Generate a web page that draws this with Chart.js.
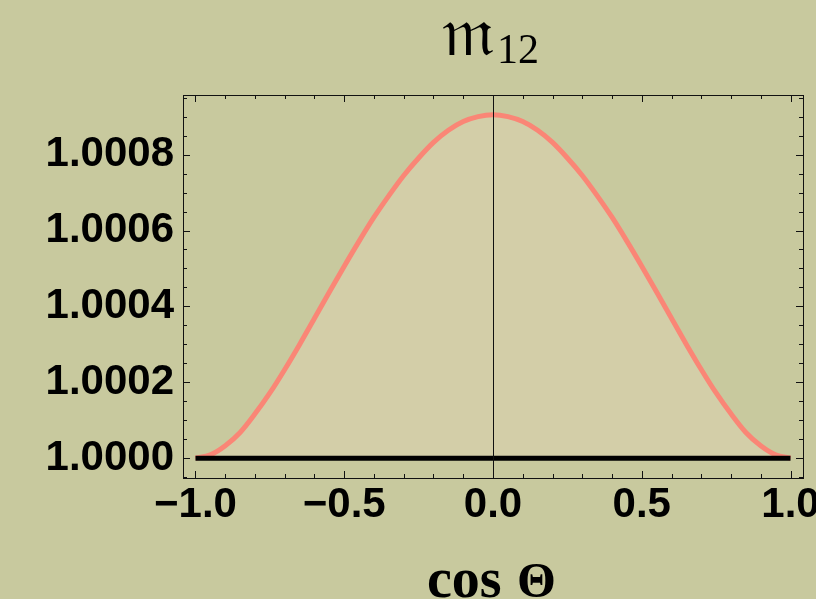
<!DOCTYPE html>
<html>
<head>
<meta charset="utf-8">
<script src="https://cdn.jsdelivr.net/npm/chart.js@4/dist/chart.umd.min.js"></script>
<style>
  html, body { margin: 0; padding: 0; overflow: hidden; background: #c8c99e; }
  #wrap { position: relative; width: 840px; height: 599px; }
</style>
</head>
<body>
<div id="wrap"><canvas id="myChart"></canvas></div>
<script>
'use strict'

// curve
const curveX = [-1, -0.95, -0.9, -0.85, -0.8, -0.75, -0.7, -0.65, -0.6, -0.55, -0.5,
    -0.45, -0.4, -0.35, -0.3, -0.25, -0.2, -0.15, -0.1, -0.05, 0,
    0.05, 0.1, 0.15, 0.2, 0.25, 0.3, 0.35, 0.4, 0.45, 0.5,
    0.55, 0.6, 0.65, 0.7, 0.75, 0.8, 0.85, 0.9, 0.95, 1]
const curveY = [1.0000000, 1.0000090, 1.0000330, 1.0000680, 1.0001170, 1.0001720, 1.0002340, 1.0003000, 1.0003690, 1.0004380, 1.0005060,
    1.0005720, 1.0006350, 1.0006920, 1.0007450, 1.0007910, 1.0008320, 1.0008640, 1.0008870, 1.0009000, 1.0009050,
    1.0009000, 1.0008870, 1.0008640, 1.0008320, 1.0007910, 1.0007450, 1.0006920, 1.0006350, 1.0005720, 1.0005060,
    1.0004380, 1.0003690, 1.0003000, 1.0002340, 1.0001720, 1.0001170, 1.0000680, 1.0000330, 1.0000090, 1.0000000]

// black reference line
const baseX = [-1, 1]
const baseY = [1, 1]

// axes
const xTicks = [-1, -0.5, 0, 0.5, 1]
const xTickLabels = ['\u22121.0', '\u22120.5', '0.0', '0.5', '1.0']
const xMinor = [-0.9, -0.8, -0.7, -0.6, -0.4, -0.3, -0.2, -0.1, 0.1, 0.2, 0.3, 0.4, 0.6, 0.7, 0.8, 0.9]
const yTicks = [1.0000, 1.0002, 1.0004, 1.0006, 1.0008]
const yTickLabels = ['1.0000', '1.0002', '1.0004', '1.0006', '1.0008']
const yMinor = [0.99995, 1.00005, 1.0001, 1.00015, 1.00025, 1.0003, 1.00035, 1.00045, 1.0005,
    1.00055, 1.00065, 1.0007, 1.00075, 1.00085, 1.0009, 1.00095]
const xRange = [-1.042, 1.042]
const yRange = [0.999948, 1.000957]

const titleMain = '\u{1D52A}'
const titleSub = '12'
const xTitleA = 'cos'
const xTitleB = '\u0398'

const framePlugin = {
    id: 'frame',
    afterDatasetsDraw(chart) {
        const ctx = chart.ctx
        const a = chart.chartArea
        const xs = chart.scales.x
        const ys = chart.scales.y
        ctx.save()
        ctx.strokeStyle = '#111'
        ctx.lineWidth = 1
        // vertical axis at x = 0
        let px = Math.round(xs.getPixelForValue(0)) + 0.5
        ctx.beginPath()
        ctx.moveTo(px, a.top)
        ctx.lineTo(px, a.bottom)
        ctx.stroke()

        ctx.strokeRect(Math.round(a.left) + 0.5, Math.round(a.top) + 0.5,
            Math.round(a.right - a.left), Math.round(a.bottom - a.top))

        const tickX = function(v, len) {
            let p = Math.round(xs.getPixelForValue(v)) + 0.5
            ctx.moveTo(p, a.top)
            ctx.lineTo(p, a.top + len)
            ctx.moveTo(p, a.bottom)
            ctx.lineTo(p, a.bottom - len)
        }
        const tickY = function(v, len) {
            let p = Math.round(ys.getPixelForValue(v)) + 0.5
            ctx.moveTo(a.left, p)
            ctx.lineTo(a.left + len, p)
            ctx.moveTo(a.right, p)
            ctx.lineTo(a.right - len, p)
        }
        ctx.beginPath()
        xTicks.forEach((v) => tickX(v, 7))
        xMinor.forEach((v) => tickX(v, 4))
        yTicks.forEach((v) => tickY(v, 7))
        yMinor.forEach((v) => tickY(v, 4))
        ctx.stroke()
        ctx.restore()
    },
    afterDraw(chart) {
        const ctx = chart.ctx
        ctx.save()
        ctx.fillStyle = '#000'
        ctx.textBaseline = 'alphabetic'
        ctx.textAlign = 'left'
        // title
        ctx.font = '70px "DejaVu Serif", serif'
        ctx.fillText(titleMain, 442, 55)
        ctx.font = '42px "Liberation Serif", serif'
        ctx.fillText(titleSub, 497, 63)

        // x axis title
        ctx.font = 'bold 56px "Liberation Serif", serif'
        ctx.fillText(xTitleA, 427, 597)
        ctx.font = 'bold 50px "Liberation Serif", serif'
        ctx.fillText(xTitleB, 517, 597)
        ctx.restore()
    }
}

const ctx = document.getElementById('myChart')

new Chart(ctx, {
    type: 'scatter',
    data: {
        datasets: [{
            data: baseX.map((x, i) => ({x: x, y: baseY[i]})),
            showLine: true,
            borderColor: '#000',
            borderWidth: 5,
            pointRadius: 0,
            fill: false,
        }, {
            data: curveX.map((x, i) => ({x: x, y: curveY[i]})),
            showLine: true,
            borderColor: '#fa8676',
            borderWidth: 5,
            pointRadius: 0,
            cubicInterpolationMode: 'monotone',
            fill: {value: 1},
            backgroundColor: '#d3cea8',
        }, ],
    },
    plugins: [framePlugin],
    options: {
        responsive: true,
        maintainAspectRatio: false,
        animation: false,
        layout: {
            padding: {top: 95, right: 37, left: 0, bottom: 0},
        },
        plugins: {
            legend: {display: false},
            tooltip: {enabled: false},
        },
        scales: {
            x: {
                type: 'linear',
                min: xRange[0],
                max: xRange[1],
                grid: {display: false},
                border: {display: false},
                afterBuildTicks: (scale) => {
                    scale.ticks = xTicks.map((v) => ({value: v}))
                },
                afterFit: (scale) => {
                    scale.height = 121
                },
                ticks: {
                    autoSkip: false,
                    maxRotation: 0,
                    padding: -6,
                    color: '#000',
                    font: {family: '"Liberation Sans", Arial, sans-serif', size: 42, weight: 'bold'},
                    callback: (v) => xTickLabels[xTicks.indexOf(v)],
                },
            },
            y: {
                type: 'linear',
                min: yRange[0],
                max: yRange[1],
                grid: {display: false},
                border: {display: false},
                afterBuildTicks: (scale) => {
                    scale.ticks = yTicks.map((v) => ({value: v}))
                },
                afterFit: (scale) => {
                    scale.width = 183
                },
                ticks: {
                    autoSkip: false,
                    padding: 1,
                    color: '#000',
                    font: {family: '"Liberation Sans", Arial, sans-serif', size: 42, weight: 'bold'},
                    callback: (v) => yTickLabels[yTicks.indexOf(v)],
                },
            },
        },
    },
})
</script>
</body>
</html>
